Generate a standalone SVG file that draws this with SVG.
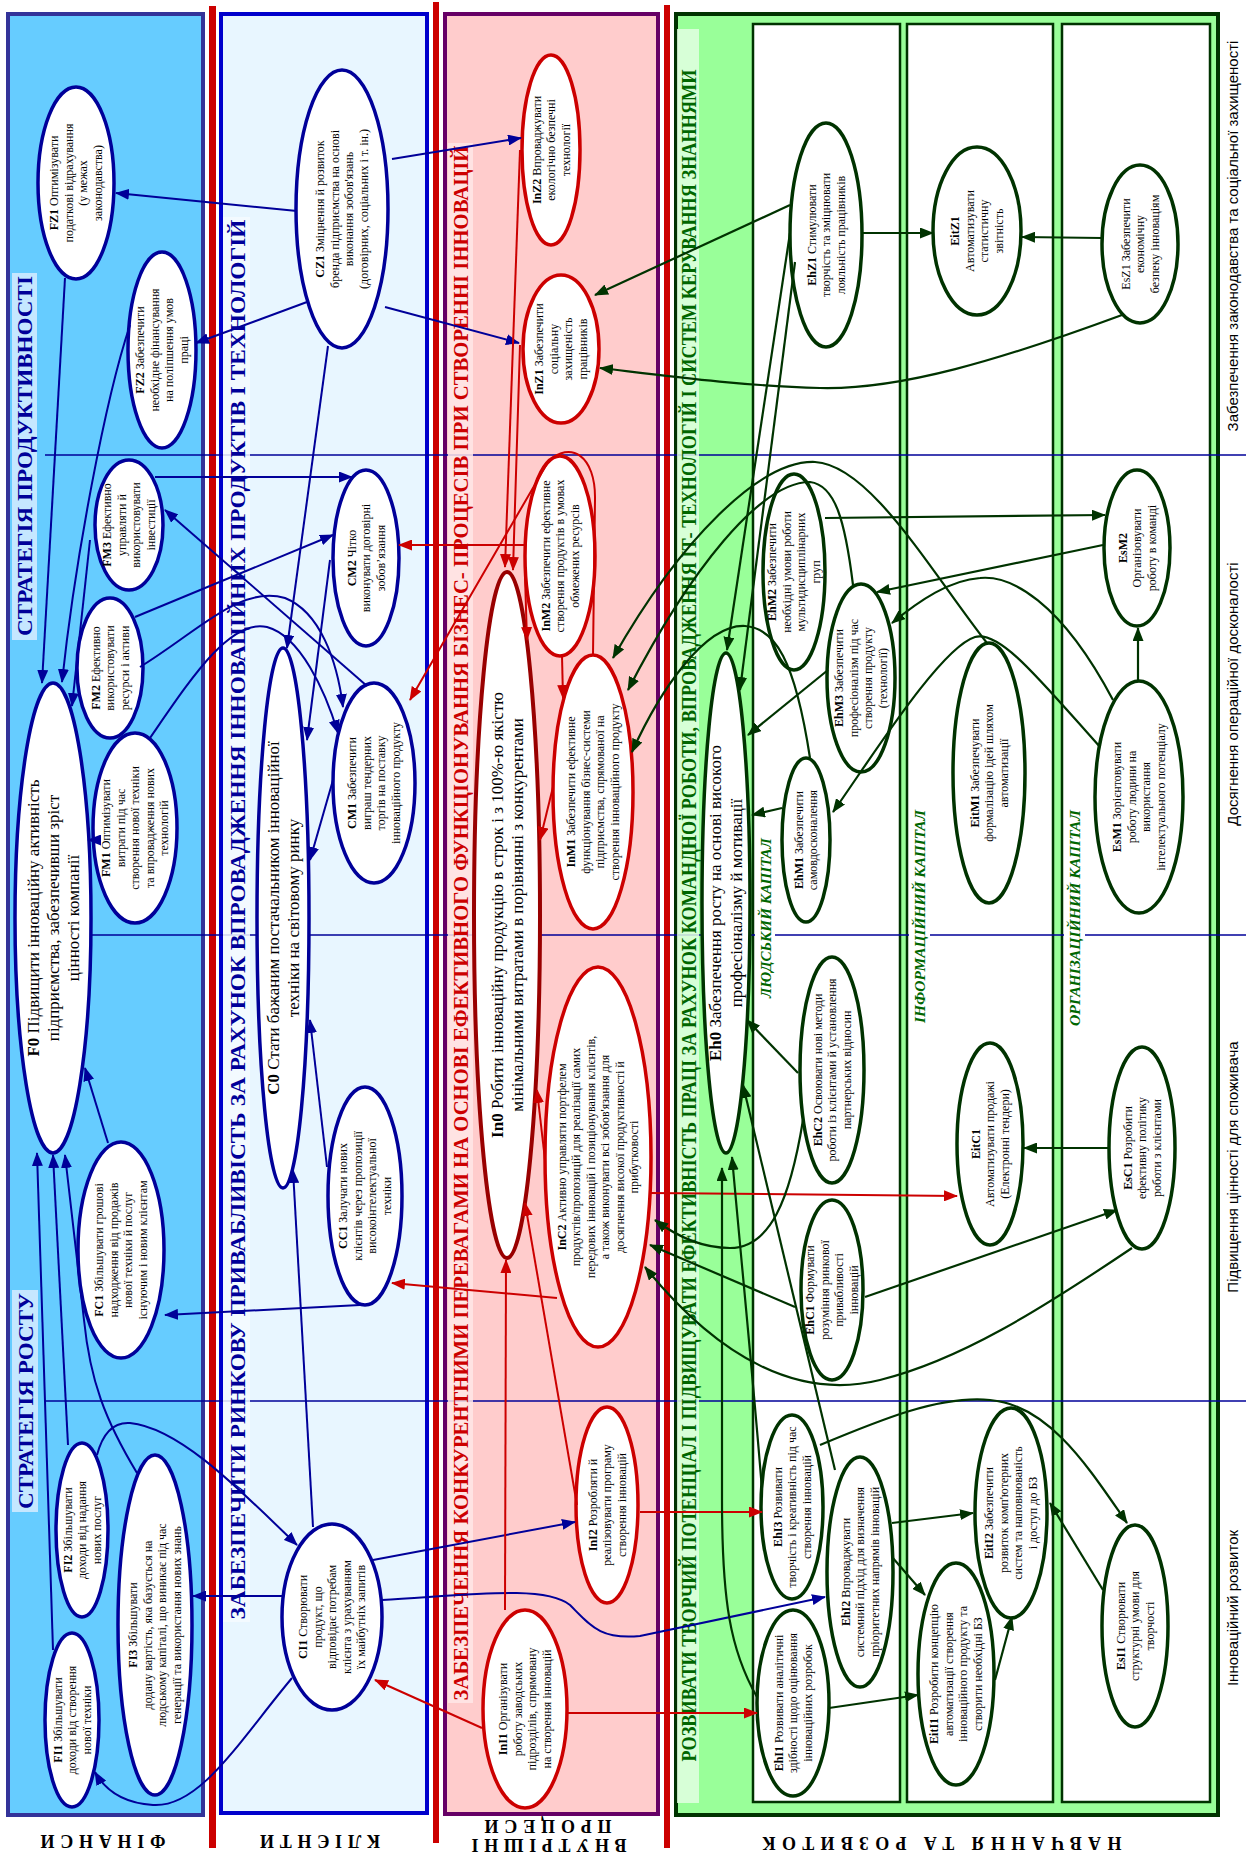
<svg xmlns="http://www.w3.org/2000/svg" width="1246" height="1857" viewBox="0 0 1246 1857">
<style>
.s{font-family:"Liberation Serif","Times New Roman",serif;font-size:12px;fill:#000}
.big{font-family:"Liberation Serif","Times New Roman",serif;font-size:17px;fill:#000}
.b{font-weight:bold}
.nb{fill:#fff;stroke:#000099;stroke-width:3.5}
.nr{fill:#fff;stroke:#CC0000;stroke-width:3.5}
.ng{fill:#fff;stroke:#003300;stroke-width:3.5}
.cb{fill:none;stroke:#000099;stroke-width:2;marker-end:url(#ab)}
.cr{fill:none;stroke:#CC0000;stroke-width:2;marker-end:url(#ar)}
.cg{fill:none;stroke:#003300;stroke-width:2.2;marker-end:url(#ag)}
.title{font-family:"Liberation Serif","Times New Roman",serif;font-size:22px;font-weight:bold;text-anchor:middle}
.row{font-family:"Liberation Sans",Arial,sans-serif;font-size:15px;fill:#000;text-anchor:middle}
.cap{font-family:"Liberation Serif","Times New Roman",serif;font-size:14px;font-weight:bold;font-style:italic;fill:#006600;text-anchor:middle}
.bot{font-family:"Liberation Serif","Times New Roman",serif;font-size:18px;font-weight:bold;fill:#000;text-anchor:middle}
.rl{stroke:#000099;stroke-width:1.5}
</style>
<defs>
<marker id="ab" viewBox="0 0 14 11" refX="13" refY="5.5" markerWidth="14" markerHeight="11" markerUnits="userSpaceOnUse" orient="auto"><path d="M0,0 L14,5.5 L0,11 z" fill="#000099"/></marker>
<marker id="ar" viewBox="0 0 14 11" refX="13" refY="5.5" markerWidth="14" markerHeight="11" markerUnits="userSpaceOnUse" orient="auto"><path d="M0,0 L14,5.5 L0,11 z" fill="#CC0000"/></marker>
<marker id="ag" viewBox="0 0 14 11" refX="13" refY="5.5" markerWidth="14" markerHeight="11" markerUnits="userSpaceOnUse" orient="auto"><path d="M0,0 L14,5.5 L0,11 z" fill="#003300"/></marker>
</defs>
<rect width="1246" height="1857" fill="#fff"/>
<g id="panels">
<rect x="8" y="14" width="195" height="1801" fill="#66CCFF" stroke="#333399" stroke-width="4"/>
<rect x="209" y="6" width="7" height="1842" fill="#CC0000"/>
<rect x="221" y="14" width="206" height="1799" fill="#E8F6FF" stroke="#0000CC" stroke-width="4"/>
<rect x="433" y="2" width="6" height="1841" fill="#CC0000"/>
<rect x="445" y="14" width="213" height="1800" fill="#FFCCCC" stroke="#660066" stroke-width="4"/>
<rect x="664" y="5" width="6" height="1843" fill="#CC0000"/>
<rect x="676" y="14" width="542" height="1801" fill="#99FF99" stroke="#003300" stroke-width="4"/>
<rect x="753" y="24" width="147" height="1778" fill="#fff" stroke="#003300" stroke-width="2.5"/>
<rect x="907" y="24" width="146" height="1778" fill="#fff" stroke="#003300" stroke-width="2.5"/>
<rect x="1062" y="24" width="148" height="1778" fill="#fff" stroke="#003300" stroke-width="2.5"/>
</g>
<g id="rows">
<line class="rl" x1="45" y1="455" x2="1246" y2="455"/>
<line class="rl" x1="45" y1="935" x2="1246" y2="935"/>
<line class="rl" x1="45" y1="1401" x2="1246" y2="1401"/>
<text class="row" transform="translate(1233,236) rotate(-90)" y="5">Забезпечення законодавства та соціальної захищеності</text>
<text class="row" transform="translate(1233,694) rotate(-90)" y="5">Досягнення операційної досконалості</text>
<text class="row" transform="translate(1233,1167) rotate(-90)" y="5">Підвищення цінності для споживача</text>
<text class="row" transform="translate(1233,1608) rotate(-90)" y="5">Інноваційний розвиток</text>
</g>
<g id="titles">
<rect x="12" y="273" width="25" height="367" fill="#D6EBFF" fill-opacity="0.85"/>
<text class="title" fill="#000099" transform="translate(24.5,456) rotate(-90)" y="7.5" textLength="360" lengthAdjust="spacingAndGlyphs">СТРАТЕГІЯ ПРОДУКТИВНОСТІ</text>
<rect x="12" y="1290" width="26" height="222" fill="#D6EBFF" fill-opacity="0.85"/>
<text class="title" fill="#000099" transform="translate(25,1401) rotate(-90)" y="7.5" textLength="216" lengthAdjust="spacingAndGlyphs">СТРАТЕГІЯ РОСТУ</text>
<rect x="223" y="217" width="27" height="1405" fill="#F4FAFF" fill-opacity="0.85"/>
<text class="title" fill="#000099" transform="translate(237,919.5) rotate(-90)" y="7.5" textLength="1400" lengthAdjust="spacingAndGlyphs">ЗАБЕЗПЕЧИТИ РИНКОВУ ПРИВАБЛИВІСТЬ ЗА РАХУНОК ВПРОВАДЖЕННЯ ІННОВАЦІЙНИХ ПРОДУКТІВ І ТЕХНОЛОГІЙ</text>
<rect x="448" y="143" width="25" height="1560" fill="#FFE6E6" fill-opacity="0.85"/>
<text class="title" fill="#CC0000" transform="translate(460.5,923) rotate(-90)" y="7.5" textLength="1555" lengthAdjust="spacingAndGlyphs">ЗАБЕЗПЕЧЕННЯ КОНКУРЕНТНИМИ ПЕРЕВАГАМИ НА ОСНОВІ ЕФЕКТИВНОГО ФУНКЦІОНУВАННЯ БІЗНЕС- ПРОЦЕСІВ ПРИ СТВОРЕННІ ІННОВАЦІЙ</text>
<rect x="677" y="29" width="22" height="1774" fill="#E2FFE2" fill-opacity="0.85"/>
<text class="title" fill="#006600" transform="translate(688,915.5) rotate(-90)" y="7.5" textLength="1692" lengthAdjust="spacingAndGlyphs">РОЗВИВАТИ ТВОРЧИЙ ПОТЕНЦІАЛ І ПІДВИЩУВАТИ ЕФЕКТИВНІСТЬ ПРАЦІ ЗА РАХУНОК КОМАНДНОЇ РОБОТИ, ВПРОВАДЖЕННЯ ІТ- ТЕХНОЛОГІЙ І СИСТЕМ КЕРУВАННЯ ЗНАННЯМИ</text>
<rect x="755" y="836" width="20" height="164" fill="#fff"/>
<text class="cap" transform="translate(766,918) rotate(-90)" y="5" textLength="160" lengthAdjust="spacingAndGlyphs">ЛЮДСЬКИЙ КАПІТАЛ</text>
<rect x="909" y="808" width="21" height="217" fill="#fff"/>
<text class="cap" transform="translate(920,916.5) rotate(-90)" y="5" textLength="213" lengthAdjust="spacingAndGlyphs">ІНФОРМАЦІЙНИЙ КАПІТАЛ</text>
<rect x="1064" y="808" width="21" height="220" fill="#fff"/>
<text class="cap" transform="translate(1075,918) rotate(-90)" y="5" textLength="216" lengthAdjust="spacingAndGlyphs">ОРГАНІЗАЦІЙНИЙ КАПІТАЛ</text>
<text class="bot" transform="rotate(180 103 1841)" x="103" y="1847" textLength="125" lengthAdjust="spacing">ФІНАНСИ</text>
<text class="bot" transform="rotate(180 320 1841)" x="320" y="1847" textLength="120" lengthAdjust="spacing">КЛІЄНТИ</text>
<text class="bot" transform="rotate(180 549 1845)" x="549" y="1851" textLength="155" lengthAdjust="spacing">ВНУТРІШНІ</text>
<text class="bot" transform="rotate(180 548 1826)" x="548" y="1832" textLength="127" lengthAdjust="spacing">ПРОЦЕСИ</text>
<text class="bot" transform="rotate(180 942 1843)" x="942" y="1849" textLength="359" lengthAdjust="spacing">НАВЧАННЯ ТА РОЗВИТОК</text>
</g>
<g id="nodes">
<g id="FZ1"><ellipse class="nb" cx="76" cy="183" rx="38" ry="96"/><text class="s" transform="translate(76,183) rotate(-90)" text-anchor="middle"><tspan x="0" y="-17.55"><tspan class="b">FZ1</tspan> Оптимізувати</tspan><tspan x="0" y="-3.05">податкові відрахування</tspan><tspan x="0" y="11.45">(у межах</tspan><tspan x="0" y="25.95">законодавства)</tspan></text></g>
<g id="FZ2"><ellipse class="nb" cx="162" cy="350" rx="34" ry="98"/><text class="s" transform="translate(162,350) rotate(-90)" text-anchor="middle"><tspan x="0" y="-17.55"><tspan class="b">FZ2</tspan> Забезпечити</tspan><tspan x="0" y="-3.05">необхідне фінансування</tspan><tspan x="0" y="11.45">на поліпшення умов</tspan><tspan x="0" y="25.95">праці</tspan></text></g>
<g id="FM3"><ellipse class="nb" cx="129" cy="525" rx="34" ry="65"/><text class="s" transform="translate(129,525) rotate(-90)" text-anchor="middle"><tspan x="0" y="-17.55"><tspan class="b">FM3</tspan> Ефективно</tspan><tspan x="0" y="-3.05">управляти й</tspan><tspan x="0" y="11.45">використовувати</tspan><tspan x="0" y="25.95">інвестиції</tspan></text></g>
<g id="FM2"><ellipse class="nb" cx="110" cy="668" rx="33" ry="70"/><text class="s" transform="translate(110,668) rotate(-90)" text-anchor="middle"><tspan x="0" y="-10.3"><tspan class="b">FM2</tspan> Ефективно</tspan><tspan x="0" y="4.2">використовувати</tspan><tspan x="0" y="18.7">ресурси і активи</tspan></text></g>
<g id="FM1"><ellipse class="nb" cx="135" cy="828" rx="42" ry="95"/><text class="s" transform="translate(135,828) rotate(-90)" text-anchor="middle"><tspan x="0" y="-24.8"><tspan class="b">FM1</tspan> Оптимізувати</tspan><tspan x="0" y="-10.3">витрати під час</tspan><tspan x="0" y="4.2">створення нової техніки</tspan><tspan x="0" y="18.7">та впровадження нових</tspan><tspan x="0" y="33.2">технологій</tspan></text></g>
<g id="F0"><ellipse class="nb" cx="53" cy="918" rx="38" ry="235"/><text class="big" transform="translate(53,918) rotate(-90)" text-anchor="middle"><tspan x="0" y="-14"><tspan class="b">F0</tspan> Підвищити інноваційну активність</tspan><tspan x="0" y="6">підприємства, забезпечивши зріст</tspan><tspan x="0" y="26">цінності компанії</tspan></text></g>
<g id="FC1"><ellipse class="nb" cx="121" cy="1250" rx="43" ry="108"/><text class="s" transform="translate(121,1250) rotate(-90)" text-anchor="middle"><tspan x="0" y="-17.55"><tspan class="b">FC1</tspan> Збільшувати грошові</tspan><tspan x="0" y="-3.05">надходження від продажів</tspan><tspan x="0" y="11.45">нової техніки й послуг</tspan><tspan x="0" y="25.95">існуючим і новим клієнтам</tspan></text></g>
<g id="FI2"><ellipse class="nb" cx="82" cy="1530" rx="26" ry="87"/><text class="s" transform="translate(82,1530) rotate(-90)" text-anchor="middle"><tspan x="0" y="-10.3"><tspan class="b">FI2</tspan> Збільшувати</tspan><tspan x="0" y="4.2">доходи від надання</tspan><tspan x="0" y="18.7">нових послуг</tspan></text></g>
<g id="FI1"><ellipse class="nb" cx="72" cy="1720" rx="27" ry="87"/><text class="s" transform="translate(72,1720) rotate(-90)" text-anchor="middle"><tspan x="0" y="-10.3"><tspan class="b">FI1</tspan> Збільшувати</tspan><tspan x="0" y="4.2">доходи від створення</tspan><tspan x="0" y="18.7">нової техніки</tspan></text></g>
<g id="FI3"><ellipse class="nb" cx="155" cy="1625" rx="37" ry="170"/><text class="s" transform="translate(155,1625) rotate(-90)" text-anchor="middle"><tspan x="0" y="-17.55"><tspan class="b">FI3</tspan> Збільшувати</tspan><tspan x="0" y="-3.05">додану вартість, яка базується на</tspan><tspan x="0" y="11.45">людському капіталі, що виникає під час</tspan><tspan x="0" y="25.95">генерації та використання нових знань</tspan></text></g>
<g id="CZ1"><ellipse class="nb" cx="342" cy="209" rx="46" ry="139"/><text class="s" transform="translate(342,209) rotate(-90)" text-anchor="middle"><tspan x="0" y="-17.55"><tspan class="b">CZ1</tspan> Зміцнення й розвиток</tspan><tspan x="0" y="-3.05">бренда підприємства на основі</tspan><tspan x="0" y="11.45">виконання зобов'язань</tspan><tspan x="0" y="25.95">(договірних, соціальних і т. ін.)</tspan></text></g>
<g id="CM2"><ellipse class="nb" cx="366" cy="558" rx="33" ry="88"/><text class="s" transform="translate(366,558) rotate(-90)" text-anchor="middle"><tspan x="0" y="-10.3"><tspan class="b">CM2</tspan> Чітко</tspan><tspan x="0" y="4.2">виконувати договірні</tspan><tspan x="0" y="18.7">зобов’язання</tspan></text></g>
<g id="CM1"><ellipse class="nb" cx="374" cy="783" rx="41" ry="100"/><text class="s" transform="translate(374,783) rotate(-90)" text-anchor="middle"><tspan x="0" y="-17.55"><tspan class="b">CM1</tspan> Забезпечити</tspan><tspan x="0" y="-3.05">виграш тендерних</tspan><tspan x="0" y="11.45">торгів на поставку</tspan><tspan x="0" y="25.95">інноваційного продукту</tspan></text></g>
<g id="C0"><ellipse class="nb" cx="283" cy="918" rx="26" ry="270"/><text class="big" transform="translate(283,918) rotate(-90)" text-anchor="middle"><tspan x="0" y="-4"><tspan class="b">C0</tspan> Стати бажаним постачальником інноваційної</tspan><tspan x="0" y="16">техніки на світовому ринку</tspan></text></g>
<g id="CC1"><ellipse class="nb" cx="365" cy="1196" rx="37" ry="109"/><text class="s" transform="translate(365,1196) rotate(-90)" text-anchor="middle"><tspan x="0" y="-17.55"><tspan class="b">CC1</tspan> Залучати нових</tspan><tspan x="0" y="-3.05">клієнтів через пропозиції</tspan><tspan x="0" y="11.45">високоінтелектуальної</tspan><tspan x="0" y="25.95">техніки</tspan></text></g>
<g id="CI1"><ellipse class="nb" cx="332" cy="1617" rx="50" ry="93"/><text class="s" transform="translate(332,1617) rotate(-90)" text-anchor="middle"><tspan x="0" y="-24.8"><tspan class="b">CI1</tspan> Створювати</tspan><tspan x="0" y="-10.3">продукт, що</tspan><tspan x="0" y="4.2">відповідає потребам</tspan><tspan x="0" y="18.7">клієнта з урахуванням</tspan><tspan x="0" y="33.2">їх майбутніх запитів</tspan></text></g>
<g id="InZ2"><ellipse class="nr" cx="551" cy="150" rx="29" ry="95"/><text class="s" transform="translate(551,150) rotate(-90)" text-anchor="middle"><tspan x="0" y="-10.3"><tspan class="b">InZ2</tspan> Впроваджувати</tspan><tspan x="0" y="4.2">екологічно безпечні</tspan><tspan x="0" y="18.7">технології</tspan></text></g>
<g id="InZ1"><ellipse class="nr" cx="561" cy="349" rx="38" ry="74"/><text class="s" transform="translate(561,349) rotate(-90)" text-anchor="middle"><tspan x="0" y="-17.55"><tspan class="b">InZ1</tspan> Забезпечити</tspan><tspan x="0" y="-3.05">соціальну</tspan><tspan x="0" y="11.45">захищеність</tspan><tspan x="0" y="25.95">працівників</tspan></text></g>
<g id="InM2"><ellipse class="nr" cx="560" cy="556" rx="35" ry="100"/><text class="s" transform="translate(560,556) rotate(-90)" text-anchor="middle" font-size="11.5"><tspan x="0" y="-10.3"><tspan class="b">InM2</tspan> Забезпечити ефективне</tspan><tspan x="0" y="4.2">створення продуктів в умовах</tspan><tspan x="0" y="18.7">обмежених ресурсів</tspan></text></g>
<g id="InM1"><ellipse class="nr" cx="593" cy="792" rx="40" ry="137"/><text class="s" transform="translate(593,792) rotate(-90)" text-anchor="middle"><tspan x="0" y="-17.55"><tspan class="b">InM1</tspan> Забезпечити ефективне</tspan><tspan x="0" y="-3.05">функціонування бізнес-системи</tspan><tspan x="0" y="11.45">підприємства, спрямованої на</tspan><tspan x="0" y="25.95">створення інноваційного продукту</tspan></text></g>
<g id="In0"><ellipse cx="507" cy="915" rx="33" ry="343" fill="#fff" stroke="#990000" stroke-width="4"/><text class="big" transform="translate(507,915) rotate(-90)" text-anchor="middle"><tspan x="0" y="-4"><tspan class="b">In0</tspan> Робити інноваційну продукцію в строк і з 100%-ю якістю</tspan><tspan x="0" y="16">мінімальними витратами в порівнянні з конкурентами</tspan></text></g>
<g id="InC2"><ellipse class="nr" cx="598" cy="1157" rx="53" ry="190"/><text class="s" transform="translate(598,1157) rotate(-90)" text-anchor="middle"><tspan x="0" y="-32.05"><tspan class="b">InC2</tspan> Активно управляти портфелем</tspan><tspan x="0" y="-17.55">продуктів/пропозицій для реалізації самих</tspan><tspan x="0" y="-3.05">передових інновацій і позиціонування клієнтів,</tspan><tspan x="0" y="11.45">а також виконувати всі зобов'язання для</tspan><tspan x="0" y="25.95">досягнення високої продуктивності й</tspan><tspan x="0" y="40.45">прибутковості</tspan></text></g>
<g id="InI2"><ellipse class="nr" cx="607" cy="1505" rx="31" ry="98"/><text class="s" transform="translate(607,1505) rotate(-90)" text-anchor="middle"><tspan x="0" y="-10.3"><tspan class="b">InI2</tspan> Розробляти й</tspan><tspan x="0" y="4.2">реалізовувати програму</tspan><tspan x="0" y="18.7">створення інновацій</tspan></text></g>
<g id="InI1"><ellipse class="nr" cx="525" cy="1709" rx="42" ry="99"/><text class="s" transform="translate(525,1709) rotate(-90)" text-anchor="middle"><tspan x="0" y="-17.55"><tspan class="b">InI1</tspan> Організувати</tspan><tspan x="0" y="-3.05">роботу заводських</tspan><tspan x="0" y="11.45">підрозділів, спрямовану</tspan><tspan x="0" y="25.95">на створення інновацій</tspan></text></g>
<g id="EhZ1"><ellipse class="ng" cx="826" cy="235" rx="36" ry="112"/><text class="s" transform="translate(826,235) rotate(-90)" text-anchor="middle"><tspan x="0" y="-10.3"><tspan class="b">EhZ1</tspan> Стимулювати</tspan><tspan x="0" y="4.2">творчість та зміцнювати</tspan><tspan x="0" y="18.7">лояльність працівників</tspan></text></g>
<g id="EitZ1"><ellipse class="ng" cx="977" cy="231" rx="44" ry="84"/><text class="s" transform="translate(977,231) rotate(-90)" text-anchor="middle"><tspan x="0" y="-17.55" class="b">EitZ1</tspan><tspan x="0" y="-3.05">Автоматизувати</tspan><tspan x="0" y="11.45">статистичну</tspan><tspan x="0" y="25.95">звітність</tspan></text></g>
<g id="EsZ1"><ellipse class="ng" cx="1140" cy="244" rx="38" ry="79"/><text class="s" transform="translate(1140,244) rotate(-90)" text-anchor="middle"><tspan x="0" y="-10.3">EsZ1 Забезпечити</tspan><tspan x="0" y="4.2">економічну</tspan><tspan x="0" y="18.7">безпеку інноваціям</tspan></text></g>
<g id="EhM2"><ellipse class="ng" cx="794" cy="572" rx="31" ry="98"/><text class="s" transform="translate(794,572) rotate(-90)" text-anchor="middle"><tspan x="0" y="-17.55"><tspan class="b">EhM2</tspan> Забезпечити</tspan><tspan x="0" y="-3.05">необхідні умови роботи</tspan><tspan x="0" y="11.45">мультидисциплінарних</tspan><tspan x="0" y="25.95">груп</tspan></text></g>
<g id="EhM3"><ellipse class="ng" cx="861" cy="678" rx="34" ry="94"/><text class="s" transform="translate(861,678) rotate(-90)" text-anchor="middle"><tspan x="0" y="-17.55"><tspan class="b">EhM3</tspan> Забезпечити</tspan><tspan x="0" y="-3.05">професіоналізм під час</tspan><tspan x="0" y="11.45">створення продукту</tspan><tspan x="0" y="25.95">(технології)</tspan></text></g>
<g id="EhM1"><ellipse class="ng" cx="806" cy="840" rx="24" ry="82"/><text class="s" transform="translate(806,840) rotate(-90)" text-anchor="middle"><tspan x="0" y="-3.05"><tspan class="b">EhM1</tspan> Забезпечити</tspan><tspan x="0" y="11.45">самовдосконалення</tspan></text></g>
<g id="EitM1"><ellipse class="ng" cx="989" cy="773" rx="36" ry="130"/><text class="s" transform="translate(989,773) rotate(-90)" text-anchor="middle"><tspan x="0" y="-10.3"><tspan class="b">EitM1</tspan> Забезпечувати</tspan><tspan x="0" y="4.2">формалізацію ідей шляхом</tspan><tspan x="0" y="18.7">автоматизації</tspan></text></g>
<g id="EsM2"><ellipse class="ng" cx="1137" cy="548" rx="33" ry="78"/><text class="s" transform="translate(1137,548) rotate(-90)" text-anchor="middle"><tspan x="0" y="-10.3" class="b">EsM2</tspan><tspan x="0" y="4.2">Організовувати</tspan><tspan x="0" y="18.7">роботу в команді</tspan></text></g>
<g id="EsM1"><ellipse class="ng" cx="1139" cy="797" rx="44" ry="116"/><text class="s" transform="translate(1139,797) rotate(-90)" text-anchor="middle"><tspan x="0" y="-17.55"><tspan class="b">EsM1</tspan> Зорієнтовувати</tspan><tspan x="0" y="-3.05">роботу людини на</tspan><tspan x="0" y="11.45">використання</tspan><tspan x="0" y="25.95">інтелектуального потенціалу</tspan></text></g>
<g id="Eh0"><ellipse class="ng" cx="726" cy="903" rx="24" ry="250"/><text class="big" transform="translate(726,903) rotate(-90)" text-anchor="middle"><tspan x="0" y="-5"><tspan class="b">Eh0</tspan> Забезпечення росту на основі високого</tspan><tspan x="0" y="16">професіоналізму й мотивації</tspan></text></g>
<g id="EhC2"><ellipse class="ng" cx="832" cy="1070" rx="32" ry="113"/><text class="s" transform="translate(832,1070) rotate(-90)" text-anchor="middle"><tspan x="0" y="-10.3"><tspan class="b">EhC2</tspan> Освоювати нові методи</tspan><tspan x="0" y="4.2">роботи із клієнтами й установлення</tspan><tspan x="0" y="18.7">партнерських відносин</tspan></text></g>
<g id="EhC1"><ellipse class="ng" cx="832" cy="1290" rx="31" ry="90"/><text class="s" transform="translate(832,1290) rotate(-90)" text-anchor="middle"><tspan x="0" y="-17.55"><tspan class="b">EhC1</tspan> Формувати</tspan><tspan x="0" y="-3.05">розуміння ринкової</tspan><tspan x="0" y="11.45">привабливості</tspan><tspan x="0" y="25.95">інновацій</tspan></text></g>
<g id="EitC1"><ellipse class="ng" cx="990" cy="1144" rx="33" ry="101"/><text class="s" transform="translate(990,1144) rotate(-90)" text-anchor="middle"><tspan x="0" y="-10.3" class="b">EitC1</tspan><tspan x="0" y="4.2">Автоматизувати продажі</tspan><tspan x="0" y="18.7">(Електронні тендери)</tspan></text></g>
<g id="EsC1"><ellipse class="ng" cx="1142" cy="1148" rx="33" ry="101"/><text class="s" transform="translate(1142,1148) rotate(-90)" text-anchor="middle"><tspan x="0" y="-10.3"><tspan class="b">EsC1</tspan> Розробити</tspan><tspan x="0" y="4.2">ефективну політику</tspan><tspan x="0" y="18.7">роботи з клієнтами</tspan></text></g>
<g id="EhI3"><ellipse class="ng" cx="792" cy="1507" rx="31" ry="92"/><text class="s" transform="translate(792,1507) rotate(-90)" text-anchor="middle"><tspan x="0" y="-10.3"><tspan class="b">EhI3</tspan> Розвивати</tspan><tspan x="0" y="4.2">творчість і креативність під час</tspan><tspan x="0" y="18.7">створення інновацій</tspan></text></g>
<g id="EhI1"><ellipse class="ng" cx="793" cy="1703" rx="36" ry="93"/><text class="s" transform="translate(793,1703) rotate(-90)" text-anchor="middle"><tspan x="0" y="-10.3"><tspan class="b">EhI1</tspan> Розвивати аналітичні</tspan><tspan x="0" y="4.2">здібності щодо оцінювання</tspan><tspan x="0" y="18.7">інноваційних розробок</tspan></text></g>
<g id="EhI2"><ellipse class="ng" cx="860" cy="1572" rx="33" ry="115"/><text class="s" transform="translate(860,1572) rotate(-90)" text-anchor="middle"><tspan x="0" y="-10.3"><tspan class="b">EhI2</tspan> Впроваджувати</tspan><tspan x="0" y="4.2">системний підхід для визначення</tspan><tspan x="0" y="18.7">пріоритетних напрямів інновацій</tspan></text></g>
<g id="EitI1"><ellipse class="ng" cx="956" cy="1674" rx="38" ry="111"/><text class="s" transform="translate(956,1674) rotate(-90)" text-anchor="middle"><tspan x="0" y="-17.55"><tspan class="b">EitI1</tspan> Розробити концепцію</tspan><tspan x="0" y="-3.05">автоматизації створення</tspan><tspan x="0" y="11.45">інноваційного продукту та</tspan><tspan x="0" y="25.95">створити необхідні БЗ</tspan></text></g>
<g id="EitI2"><ellipse class="ng" cx="1011" cy="1513" rx="36" ry="105"/><text class="s" transform="translate(1011,1513) rotate(-90)" text-anchor="middle"><tspan x="0" y="-17.55"><tspan class="b">EitI2</tspan> Забезпечити</tspan><tspan x="0" y="-3.05">розвиток комп'ютерних</tspan><tspan x="0" y="11.45">систем та наповнюваність</tspan><tspan x="0" y="25.95">і доступ до БЗ</tspan></text></g>
<g id="EsI1"><ellipse class="ng" cx="1135" cy="1626" rx="33" ry="101"/><text class="s" transform="translate(1135,1626) rotate(-90)" text-anchor="middle"><tspan x="0" y="-10.3"><tspan class="b">EsI1</tspan> Створювати</tspan><tspan x="0" y="4.2">структурні умови для</tspan><tspan x="0" y="18.7">творчості</tspan></text></g>
</g>
<g id="connectors">
<path class="cb" d="M297,211 L116,193"/>
<path class="cb" d="M307,302 L196,343"/>
<path class="cb" d="M392,159 L521,138"/>
<path class="cb" d="M385,307 L519,343"/>
<path class="cb" d="M328,346 L287,648"/>
<path class="cb" d="M65,278 L42,683"/>
<path class="cb" d="M130,325 C105,400 75,560 62,682"/>
<path class="cb" d="M90,540 L72,706"/>
<path class="cb" d="M155,477 L352,477"/>
<path class="cb" d="M135,617 L333,535"/>
<path class="cb" d="M367,686 L165,510"/>
<path class="cb" d="M140,667 C200,630 240,585 285,598 C320,612 337,660 343,707"/>
<path class="cb" d="M150,738 C190,680 230,618 267,627 C300,636 325,690 338,733"/>
<path class="cb" d="M330,560 L307,740"/>
<path class="cb" d="M333,780 L310,860"/>
<path class="cb" d="M100,840 L88,840"/>
<path class="cb" d="M108,1143 L85,1068"/>
<path class="cb" d="M360,1305 L165,1315"/>
<path class="cb" d="M327,1167 L310,1020"/>
<path class="cb" d="M313,1527 L293,1170"/>
<path class="cb" d="M283,1596 L193,1596"/>
<path class="cb" d="M292,1678 C240,1740 200,1808 153,1805 C122,1803 105,1790 95,1772"/>
<path class="cb" d="M97,1455 C103,1432 115,1422 130,1423 C180,1428 240,1490 297,1545"/>
<path class="cb" d="M373,1560 L575,1522"/>
<path class="cb" d="M382,1600 C470,1595 545,1585 570,1605 C590,1625 600,1640 640,1636 L825,1597"/>
<path class="cb" d="M53,1650 L37,1153"/>
<path class="cb" d="M68,1445 L53,1155"/>
<path class="cb" d="M137,1473 C105,1420 90,1380 84,1320 L65,1155"/>
<path class="cr" d="M525,545 L399,545"/>
<path class="cr" d="M593,655 L595,500 C596,455 570,440 548,462 L410,700"/>
<path class="cr" d="M520,150 L505,567"/>
<path class="cr" d="M520,345 L513,570"/>
<path class="cr" d="M525,577 L527,640"/>
<path class="cr" d="M562,656 L563,698"/>
<path class="cr" d="M553,787 L540,840"/>
<path class="cr" d="M545,1160 L537,1090"/>
<path class="cr" d="M557,1298 L392,1283"/>
<path class="cr" d="M650,1193 L957,1196"/>
<path class="cr" d="M577,1505 L525,1203"/>
<path class="cr" d="M505,1610 L506,1260"/>
<path class="cr" d="M482,1728 L375,1680"/>
<path class="cr" d="M568,1713 L757,1713"/>
<path class="cr" d="M640,1512 L762,1512"/>
<path class="cg" d="M790,205 L595,295"/>
<path class="cg" d="M1122,315 C1000,360 900,390 820,388 C740,386 660,375 600,368"/>
<path class="cg" d="M862,233 L933,233"/>
<path class="cg" d="M1102,238 L1022,237"/>
<path class="cg" d="M1108,1148 L1024,1148"/>
<path class="cg" d="M865,1297 L1117,1210"/>
<path class="cg" d="M1132,1248 C1040,1310 960,1360 880,1380 C800,1400 720,1360 645,1267"/>
<path class="cg" d="M803,1120 C790,1200 770,1248 730,1248 C700,1248 675,1235 655,1220"/>
<path class="cg" d="M795,1307 L650,1245"/>
<path class="cg" d="M798,1073 L747,1020"/>
<path class="cg" d="M782,808 L752,815"/>
<path class="cg" d="M828,670 L748,735"/>
<path class="cg" d="M825,518 L1105,515"/>
<path class="cg" d="M1103,545 L877,592"/>
<path class="cg" d="M1113,700 C1060,600 1010,575 980,578 C950,580 920,600 892,623"/>
<path class="cg" d="M1138,682 L1138,628"/>
<path class="cg" d="M1100,747 C1040,680 1000,630 975,637 C940,648 870,760 833,812"/>
<path class="cg" d="M790,233 L727,650"/>
<path class="cg" d="M795,262 L740,690"/>
<path class="cg" d="M987,643 C930,570 870,465 815,462 C760,460 680,540 613,658"/>
<path class="cg" d="M853,585 C845,520 835,485 810,482 C760,482 690,570 628,690"/>
<path class="cg" d="M810,758 C795,660 775,628 745,626 C705,624 660,690 632,752"/>
<path class="cg" d="M892,1523 L973,1513"/>
<path class="cg" d="M892,1557 L925,1595"/>
<path class="cg" d="M829,1708 L918,1695"/>
<path class="cg" d="M995,1680 L1012,1617"/>
<path class="cg" d="M1103,1590 L1050,1503"/>
<path class="cg" d="M820,1445 C880,1420 940,1395 990,1400 C1050,1405 1090,1470 1127,1523"/>
<path class="cg" d="M757,1697 C730,1650 722,1600 722,1500 L722,1168"/>
<path class="cg" d="M762,1490 C755,1400 745,1300 732,1157"/>
<path class="cg" d="M835,1470 L743,1085"/>
</g>
</svg>
